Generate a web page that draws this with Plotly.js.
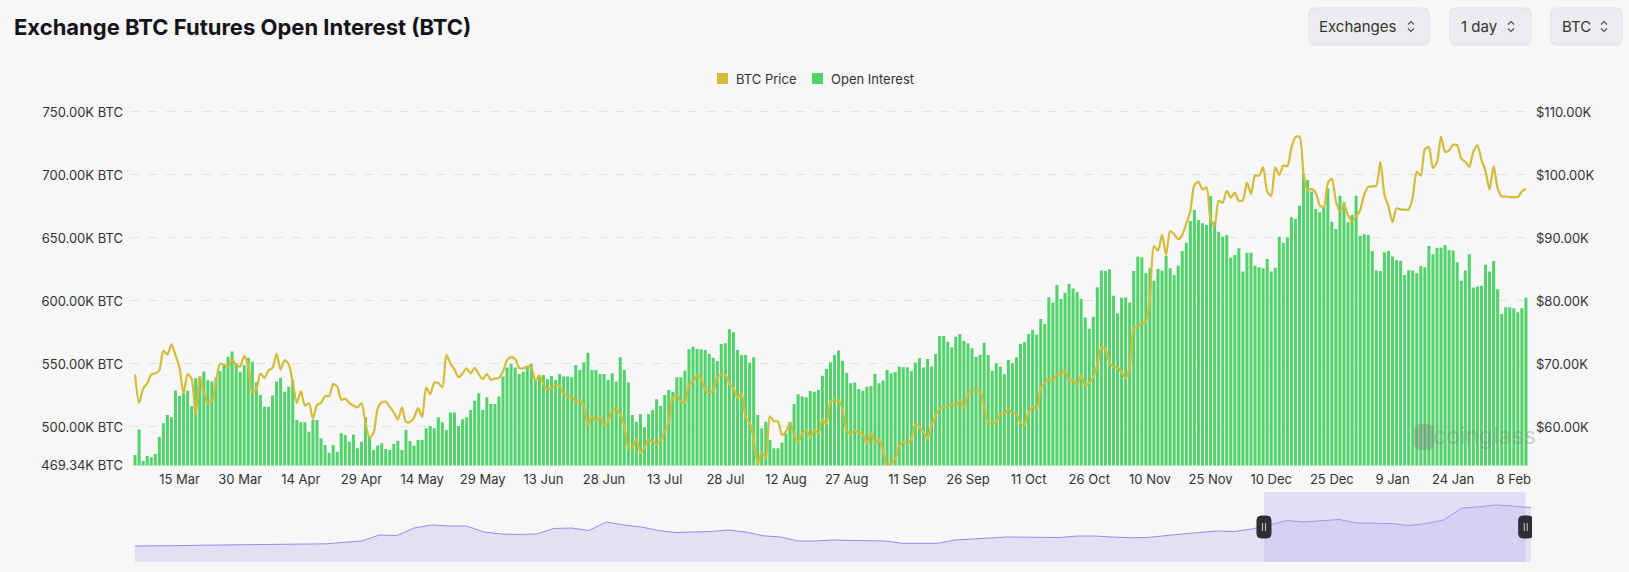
<!DOCTYPE html>
<html>
<head>
<meta charset="utf-8">
<script src="https://cdn.plot.ly/plotly-3.0.1.min.js"></script>
<style>
  html, body { margin: 0; padding: 0; background: #f7f7f7; }
  #chart { width: 1629px; height: 572px; }
</style>
</head>
<body>
<div id="chart"></div>
<script>
// ---------------- DATA ----------------
const startDay = '2024-03-04';

// Open interest, thousand BTC, one value per day (4 Mar 2024 -> 11 Feb 2025)
const oiValues = [
  477.8, 498, 473, 477, 476, 478.6, 492, 503, 509.5, 507.7,
  529, 524.6, 526.7, 528.8, 516.7, 538.6, 540, 544, 537, 536,
  539, 544.4, 549, 555.8, 559.8, 550.5, 543.9, 549, 555, 551.8,
  535.5, 525.4, 516, 516, 524.9, 536, 539, 528, 532, 537,
  505.5, 503.7, 503.7, 496.3, 505.5, 505.5, 491, 485.7, 479.6, 485.7,
  480.4, 495, 493.7, 488.3, 494,
  483.1, 488.3, 507.7, 492.3, 481.7, 485.2, 487, 482.5, 481.7, 486.5,
  489.1, 481.7, 497.6, 488.9, 485.2, 489.7, 489.7, 498.9, 500.8, 498.9,
  507.7, 503.7, 497.6, 511.4, 511.4, 500.8, 506.1, 507.7, 513.5, 520.9,
  526.7, 513.5, 523.5, 518.3, 518.3, 524.1, 540, 547.1, 550, 547.1,
  542.1, 543.9, 547.9, 550, 537.3, 540, 541.3, 537.8, 540.5, 537.3,
  542.1, 540, 540, 539.4, 549.2, 545.2,
  551.3, 559, 545.2, 545.2, 542.1, 542.1, 537.3, 542.6, 536, 555.3,
  545.2, 535.2, 509.5, 504.2, 510, 499.7, 510.3, 513.5, 522, 516.7,
  525.4, 529.4, 528, 539.4, 539.4, 544.7, 561.6, 563.7, 561.8, 561.6,
  561.1, 557.9, 555, 552.4, 565.9, 566.4, 577.5, 575.1, 561.1, 557.1,
  557.1, 551, 555.3, 509.5, 498.9, 504.2, 489.7, 483.1, 483.1, 487.6,
  495, 504.2, 518.3, 525.9, 524.1, 523.5,
  528.6, 528, 529.4, 540.7, 546, 551.3, 557.1, 560.6, 552.6, 543.1,
  534.7, 535.2, 530.2, 528.8, 532, 532.5, 542.1, 534.7, 536.8, 545.2,
  542.6, 543.4, 547.9, 547.4, 547.4, 544.4, 551, 554.5, 547.1, 554,
  547.9, 557.9, 572.2, 572.2, 567.7, 563.2, 571.7, 573.8, 568.5, 566.4,
  562.4, 555.8, 557.3, 566.9, 557.1,
  544.7, 550.5, 547.9, 541.8, 553.2, 550.5, 555.3, 565.9, 567.5, 573.8,
  577, 573.3, 585.7, 581.7, 602.9, 598.7, 612.7, 601.6, 606.6, 613.7,
  609.8, 607.1, 601.6, 586.8, 578, 587.5, 610.9, 624.1, 623.8, 625.1,
  604.2, 590.2, 602.6, 602.6, 598.7, 623.8, 635.2, 634.5, 622, 626,
  616.1, 625.4, 624.1, 635.7,
  625.9, 620.6, 628, 639.7, 646.3, 663.5, 672.2, 664.3, 661.7, 660.3,
  683.3, 662.9, 655, 651, 652.4, 634.4, 636.5, 641.8, 623.3, 638.3,
  638.3, 628, 626.7, 625.9, 633.3, 623.3, 626.4, 651, 646.3, 650.3,
  666.4, 665.1, 675.6, 700.5, 696, 686.8, 673, 670.4, 674.8, 689.4,
  662.9, 657.1, 683.6, 678.3, 662.4, 668.3,
  683.6, 651.8, 652.9, 652.4, 639.7, 624.1, 623.8, 638.6, 639.7, 635.2,
  632.5, 632, 620.6, 624.6, 624.1, 622, 627.8, 626.7, 643.7, 637,
  642.3, 642.3, 644.4, 640.5, 640, 630.7, 616.1, 624.1, 637, 610.6,
  611.4, 612, 628.8, 623.3, 631.7, 609.3, 589.7, 595, 595, 594.2,
  591, 594.2, 602.6
];

// BTC price, thousand USD, same days
const btcPrice = [
  // Mar
  68.3, 63.8, 66.1, 66.9, 68.3, 68.5, 69.0, 72.1, 71.5, 73.1, 71.4, 69.4, 65.3, 68.4,
  67.6, 61.9, 67.9, 65.5, 63.8, 64.1, 67.2, 70.0, 69.9, 69.5, 70.7, 69.9, 69.6, 71.3,
  // Apr
  69.7, 65.5, 66.0, 68.5, 67.8, 69.0, 69.4, 71.6, 69.1, 70.6, 70.0, 67.1, 63.8, 65.7, 63.4,
  63.8, 61.3, 63.5, 63.8, 64.9, 64.9, 66.8, 66.4, 64.3, 64.5, 63.8, 63.4, 63.1, 63.8, 60.6,
  // May
  58.3, 59.1, 62.9, 63.9, 64.0, 63.2, 62.3, 61.2, 63.1, 60.8, 60.8, 61.5, 63.0, 61.6, 66.3, 65.2,
  67.0, 67.0, 66.3, 71.4, 70.1, 69.1, 67.9, 68.5, 69.3, 68.5, 69.4, 68.4, 67.6, 68.4, 67.5,
  // Jun
  67.7, 67.8, 68.8, 70.6, 71.1, 70.8, 69.4, 69.3, 69.6, 69.5, 67.3, 68.2, 66.8, 66.0, 66.2,
  66.6, 66.5, 65.2, 64.9, 64.8, 64.1, 64.3, 63.2, 60.3, 61.8, 60.9, 61.6, 60.3, 60.9, 62.7,
  // Jul
  62.8, 62.0, 60.2, 56.7, 56.7, 58.2, 55.9, 56.7, 58.0, 57.7, 57.3, 57.9, 59.2, 60.8, 64.7, 65.0,
  64.1, 63.9, 66.7, 67.2, 68.2, 67.6, 65.9, 65.4, 65.8, 67.9, 68.3, 68.3, 66.8, 66.2, 64.6,
  // Aug
  65.4, 61.5, 60.7, 58.1, 54.0, 56.0, 55.1, 61.7, 60.9, 60.9, 58.7, 59.3, 60.6, 58.7, 57.6, 58.9,
  59.5, 58.4, 59.5, 59.0, 61.2, 60.4, 64.1, 64.2, 64.2, 62.8, 59.4, 59.0, 59.4, 59.1, 58.9,
  // Sep
  57.3, 59.1, 57.5, 58.0, 56.2, 53.9, 54.2, 54.9, 57.0, 57.6, 57.3, 58.1, 60.5, 60.0, 59.2,
  58.2, 60.3, 61.8, 62.9, 63.2, 63.3, 63.6, 63.3, 64.3, 63.1, 65.2, 65.9, 65.8, 65.6, 63.3,
  // Oct
  60.8, 60.6, 60.8, 62.1, 62.1, 62.8, 62.2, 62.1, 60.6, 60.3, 62.4, 63.2, 62.9, 66.1, 67.0, 67.6,
  67.4, 68.4, 68.4, 69.0, 67.4, 67.4, 66.7, 68.2, 66.6, 67.0, 67.9, 69.9, 72.7, 72.3, 70.2,
  // Nov
  69.5, 69.4, 68.7, 67.8, 69.4, 75.6, 75.9, 76.5, 76.7, 80.5, 88.7, 88.0, 90.5, 87.3, 91.1,
  90.6, 89.8, 90.5, 92.3, 94.3, 98.4, 98.9, 97.7, 98.0, 93.0, 91.9, 95.9, 95.6, 97.5, 96.4,
  // Dec
  97.2, 95.9, 96.0, 98.8, 97.0, 99.9, 99.9, 101.2, 97.4, 96.7, 101.2, 100.0, 101.5, 101.4, 104.3, 106.0,
  106.1, 100.2, 97.5, 97.8, 97.2, 95.2, 94.9, 98.7, 99.4, 95.8, 94.2, 95.2, 93.6, 92.6, 93.4,
  // Jan
  94.4, 96.9, 98.1, 98.2, 98.3, 102.1, 96.9, 95.0, 92.5, 94.7, 94.5, 94.5, 94.5, 96.5, 100.5, 99.9,
  104.1, 104.4, 101.1, 102.0, 106.1, 103.7, 103.9, 104.8, 104.7, 102.6, 102.1, 101.3, 103.7, 104.7, 102.4,
  // Feb
  100.6, 97.7, 101.4, 97.9, 96.6, 96.6, 96.5, 96.5, 96.5, 97.4, 97.8
];

// Range-selector overview line (relative height, evenly spaced samples)
const navValues = [
  16, 16, 16.3, 16.5, 16.8, 17, 17.3, 17.6, 17.8, 17.9,
  18, 18.2, 19.7, 21, 27, 26.5, 34, 37, 36, 36,
  30, 28, 27.5, 28, 33.5, 34, 31.5, 40, 37, 35,
  31.5, 29.5, 30, 30.5, 32, 30, 26.2, 25, 21, 21,
  22, 21.5, 21, 21, 18.7, 18.7, 18.7, 22, 23, 23.7,
  25, 24.8, 24.4, 24.5, 26, 26, 25, 24.3, 24.5, 26.5,
  28, 29.5, 31, 30.5, 33, 37, 41.5, 40, 41, 42.5,
  39, 39, 38.5, 36.5, 38.5, 42, 53.7, 55.3, 57, 56,
  54.3
];

const leftTickVals  = [469.34, 500, 550, 600, 650, 700, 750];
const leftTickText  = ['469.34K BTC', '500.00K BTC', '550.00K BTC', '600.00K BTC', '650.00K BTC', '700.00K BTC', '750.00K BTC'];
const rightTickVals = [60, 70, 80, 90, 100, 110];
const rightTickText = ['$60.00K', '$70.00K', '$80.00K', '$90.00K', '$100.00K', '$110.00K'];
const seriesNames   = ['BTC Price', 'Open Interest'];
const controlLabels = ['Exchanges', '1 day', 'BTC'];

// ---------------- LAYOUT HELPERS ----------------
const W = 1629, H = 572, ML = 130, MR = 97, MT = 100, MB = 10;
const PW = W - ML - MR, PH = H - MT - MB;
const px = x => (x - ML) / PW;
const py = y => (H - MB - y) / PH;

const t0 = Date.parse(startDay + 'T00:00:00Z');
const days = oiValues.map((_, i) => new Date(t0 + i * 864e5).toISOString().slice(0, 10));

const GREEN = '#53d26c';
const GOLD = '#d4bb3a';
const FONT = 'Inter, Roboto, sans-serif';

const traces = [
  {
    type: 'bar', name: seriesNames[1], x: days, y: oiValues,
    xaxis: 'x', yaxis: 'y',
    marker: { color: GREEN, line: { width: 0 } },
    hoverinfo: 'skip'
  },
  {
    type: 'scatter', mode: 'lines', name: seriesNames[0], x: days, y: btcPrice,
    xaxis: 'x', yaxis: 'y2',
    line: { color: GOLD, width: 2.2, shape: 'spline', smoothing: 0.7 },
    hoverinfo: 'skip'
  },
  {
    type: 'scatter', mode: 'lines', x: navValues.map((_, i) => i), y: navValues,
    xaxis: 'x2', yaxis: 'y3', fill: 'tozeroy',
    fillcolor: 'rgba(176,164,236,0.28)',
    line: { color: '#9a8cec', width: 1 },
    hoverinfo: 'skip'
  }
];

function roundRect(x0, y0, x1, y1, r) {
  const P = (x, y) => px(x) + ',' + py(y);
  return 'M' + P(x0 + r, y0) + ' L' + P(x1 - r, y0) + ' Q' + P(x1, y0) + ' ' + P(x1, y0 + r) +
         ' L' + P(x1, y1 - r) + ' Q' + P(x1, y1) + ' ' + P(x1 - r, y1) +
         ' L' + P(x0 + r, y1) + ' Q' + P(x0, y1) + ' ' + P(x0, y1 - r) +
         ' L' + P(x0, y0 + r) + ' Q' + P(x0, y0) + ' ' + P(x0 + r, y0) + ' Z';
}
function chevrons(cx, cy) {
  const P = (x, y) => px(x) + ',' + py(y);
  return [
    'M' + P(cx - 3, cy - 2) + ' L' + P(cx, cy - 5) + ' L' + P(cx + 3, cy - 2),
    'M' + P(cx - 3, cy + 2) + ' L' + P(cx, cy + 5) + ' L' + P(cx + 3, cy + 2)
  ];
}

const shapes = [];
const annotations = [];

// header controls
const boxes = [
  { x0: 1309, x1: 1429, tx: 1358, cx: 1411 },
  { x0: 1450, x1: 1531, tx: 1479, cx: 1511 },
  { x0: 1551, x1: 1622, tx: 1576, cx: 1604 }
];
boxes.forEach((b, i) => {
  shapes.push({ type: 'path', xref: 'paper', yref: 'paper', path: roundRect(b.x0, 8, b.x1, 45, 6),
    fillcolor: '#ececf0', line: { color: '#e0e0e5', width: 1 }, layer: 'above' });
  chevrons(b.cx, 26.5).forEach(p => shapes.push({ type: 'path', xref: 'paper', yref: 'paper', path: p,
    line: { color: '#555', width: 1.2 }, layer: 'above' }));
  annotations.push({ xref: 'paper', yref: 'paper', x: px(b.tx), y: py(26.5), text: controlLabels[i],
    showarrow: false, xanchor: 'center', yanchor: 'middle', font: { family: FONT, size: 15, color: '#333' } });
});

// custom legend
shapes.push({ type: 'rect', xref: 'paper', yref: 'paper', x0: px(717), x1: px(728), y0: py(84), y1: py(73),
  fillcolor: GOLD, line: { width: 0 } });
shapes.push({ type: 'rect', xref: 'paper', yref: 'paper', x0: px(812), x1: px(823), y0: py(84), y1: py(73),
  fillcolor: GREEN, line: { width: 0 } });
annotations.push({ xref: 'paper', yref: 'paper', x: px(734), y: py(78.5), text: seriesNames[0], showarrow: false,
  xanchor: 'left', yanchor: 'middle', font: { family: FONT, size: 13, color: '#333' } });
annotations.push({ xref: 'paper', yref: 'paper', x: px(829), y: py(78.5), text: seriesNames[1], showarrow: false,
  xanchor: 'left', yanchor: 'middle', font: { family: FONT, size: 13, color: '#333' } });

// watermark
shapes.push({ type: 'path', xref: 'paper', yref: 'paper', path: roundRect(1414, 424, 1434, 450, 7),
  fillcolor: 'rgba(120,120,120,0.35)', line: { width: 0 } });
annotations.push({ xref: 'paper', yref: 'paper', x: px(1484), y: py(436), text: 'coinglass', showarrow: false,
  xanchor: 'center', yanchor: 'middle', font: { family: FONT, size: 23, color: 'rgba(120,120,120,0.33)' } });

// range selector window + handles
const selStart = 64.7, selEnd = 79.7;
shapes.push({ type: 'rect', xref: 'x2', yref: 'y3', x0: selStart, x1: selEnd, y0: 0, y1: 70,
  fillcolor: 'rgba(186,172,246,0.32)', line: { width: 0 }, layer: 'above' });
[selStart, selEnd].forEach(xv => {
  shapes.push({ type: 'path', xref: 'x2', yref: 'y3', xsizemode: 'pixel', ysizemode: 'pixel',
    xanchor: xv, yanchor: 35,
    path: 'M-3,-11 L3,-11 Q7,-11 7,-7 L7,7 Q7,11 3,11 L-3,11 Q-7,11 -7,7 L-7,-7 Q-7,-11 -3,-11 Z',
    fillcolor: '#2e2e33', line: { color: '#2e2e33', width: 1 }, layer: 'above' });
  [-1.5, 1.5].forEach(dx => shapes.push({ type: 'line', xref: 'x2', yref: 'y3', xsizemode: 'pixel', ysizemode: 'pixel',
    xanchor: xv, yanchor: 35, x0: dx, x1: dx, y0: -4, y1: 4, line: { color: '#cfcfcf', width: 1 }, layer: 'above' }));
});

const layout = {
  width: W, height: H,
  margin: { l: ML, r: MR, t: MT, b: MB },
  paper_bgcolor: '#f7f7f7', plot_bgcolor: '#f7f7f7',
  showlegend: false,
  bargap: 0.25,
  hovermode: false,
  title: {
    text: '<b>Exchange BTC Futures Open Interest (BTC)</b>',
    x: 14 / W, xanchor: 'left', y: 1 - 27 / H, yanchor: 'middle',
    font: { family: FONT, size: 22, color: '#141418', weight: 800 }
  },
  xaxis: {
    type: 'date', domain: [0, 1], anchor: 'y',
    range: ['2024-03-02 18:00', '2025-02-12 12:00'],
    tick0: '2024-03-15', dtick: 15 * 864e5, tickformat: '%-d %b',
    showgrid: false, zeroline: false, showline: false, ticks: '',
    ticklabelstandoff: 4,
    tickfont: { family: FONT, size: 13, color: '#333' }
  },
  yaxis: {
    domain: [(H - MB - 465.6) / PH, 1], range: [469.34, 759.5],
    tickvals: leftTickVals, ticktext: leftTickText,
    showgrid: true, gridcolor: '#e3e3e3', griddash: 'dash', gridwidth: 1,
    zeroline: false, showline: false, ticks: '',
    ticklabelstandoff: 6,
    tickfont: { family: FONT, size: 13, color: '#333' }
  },
  yaxis2: {
    overlaying: 'y', side: 'right', anchor: 'x', range: [53.873, 111.9],
    tickvals: rightTickVals, ticktext: rightTickText,
    showgrid: false, zeroline: false, showline: false, ticks: '',
    ticklabelstandoff: 3,
    tickfont: { family: FONT, size: 13, color: '#333' }
  },
  xaxis2: { domain: [0, 1], anchor: 'y3', range: [-0.29, 80.06], visible: false },
  yaxis3: { domain: [0, (H - MB - 492) / PH], anchor: 'x2', range: [0, 70], visible: false },
  shapes: shapes,
  annotations: annotations
};

Plotly.newPlot('chart', traces, layout, { displayModeBar: false, staticPlot: true });
</script>
</body>
</html>
